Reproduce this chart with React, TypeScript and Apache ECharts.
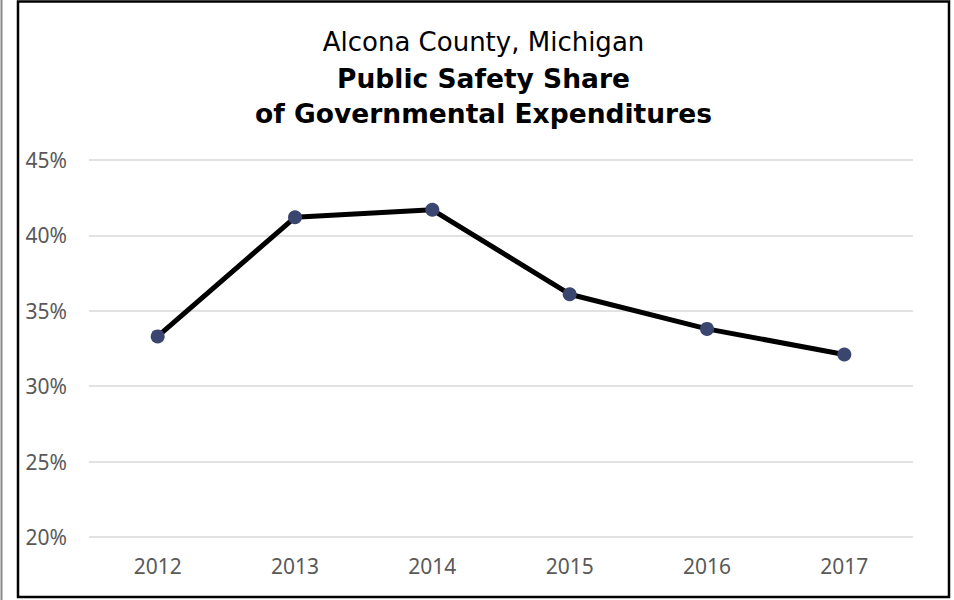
import React, { useEffect, useRef } from "react";
import * as echarts from "echarts";

const years = ["2012", "2013", "2014", "2015", "2016", "2017"];
const publicSafetyShare = [33.3, 41.2, 41.7, 36.1, 33.8, 32.1];
const titleLine1 = "Alcona County, Michigan";
const titleLine2 = "Public Safety Share";
const titleLine3 = "of Governmental Expenditures";

const FONT = "DejaVu Sans";
const TICK_FONT = "Noto Sans";

export default function App() {
  const ref = useRef<HTMLDivElement>(null);
  useEffect(() => {
    if (!ref.current) return;
    const chart = echarts.init(ref.current, null, { renderer: "svg" });
    chart.setOption({
      animation: false,
      backgroundColor: "#ffffff",
      grid: { left: 89, right: 41, top: 160, bottom: 63 },
      xAxis: {
        type: "category",
        data: years,
        boundaryGap: true,
        axisLine: { show: false },
        axisTick: { show: false },
        axisLabel: { color: "#595959", fontSize: 21, fontFamily: TICK_FONT, margin: 18 },
      },
      yAxis: {
        type: "value",
        min: 20,
        max: 45,
        interval: 5,
        axisLine: { show: false },
        axisTick: { show: false },
        axisLabel: {
          color: "#595959",
          fontSize: 21,
          fontFamily: TICK_FONT,
          margin: 22,
          formatter: (v: number) => v + "%",
        },
        splitLine: { lineStyle: { color: "#d9d9d9", width: 1.5 } },
      },
      series: [
        {
          type: "line",
          data: publicSafetyShare,
          symbol: "circle",
          symbolSize: 14,
          lineStyle: { color: "#000000", width: 5 },
          itemStyle: { color: "#3a4670" },
          z: 3,
        },
      ],
      graphic: [
        {
          type: "rect",
          shape: { x: 18, y: 1.5, width: 931, height: 595.5 },
          style: { fill: "none", stroke: "#000", lineWidth: 2.5 },
          z: 10,
        },
        {
          type: "line",
          shape: { x1: 1.5, y1: 0, x2: 1.5, y2: 600 },
          style: { stroke: "#888", lineWidth: 2 },
        },
        {
          type: "text",
          x: 483.5,
          y: 42,
          style: {
            text: titleLine1,
            fontFamily: FONT,
            fontSize: 26,
            fill: "#000",
            align: "center",
            verticalAlign: "middle",
          },
        },
        {
          type: "text",
          x: 483.5,
          y: 78,
          style: {
            text: titleLine2,
            fontFamily: FONT,
            fontSize: 26.5,
            fontWeight: "bold",
            fill: "#000",
            align: "center",
            verticalAlign: "middle",
          },
        },
        {
          type: "text",
          x: 483.5,
          y: 113,
          style: {
            text: titleLine3,
            fontFamily: FONT,
            fontSize: 26.5,
            fontWeight: "bold",
            fill: "#000",
            align: "center",
            verticalAlign: "middle",
          },
        },
      ],
    });
    return () => chart.dispose();
  }, []);
  return (
    <div
      ref={ref}
      style={{ position: "absolute", left: 0, top: 0, width: 954, height: 600 }}
    />
  );
}
